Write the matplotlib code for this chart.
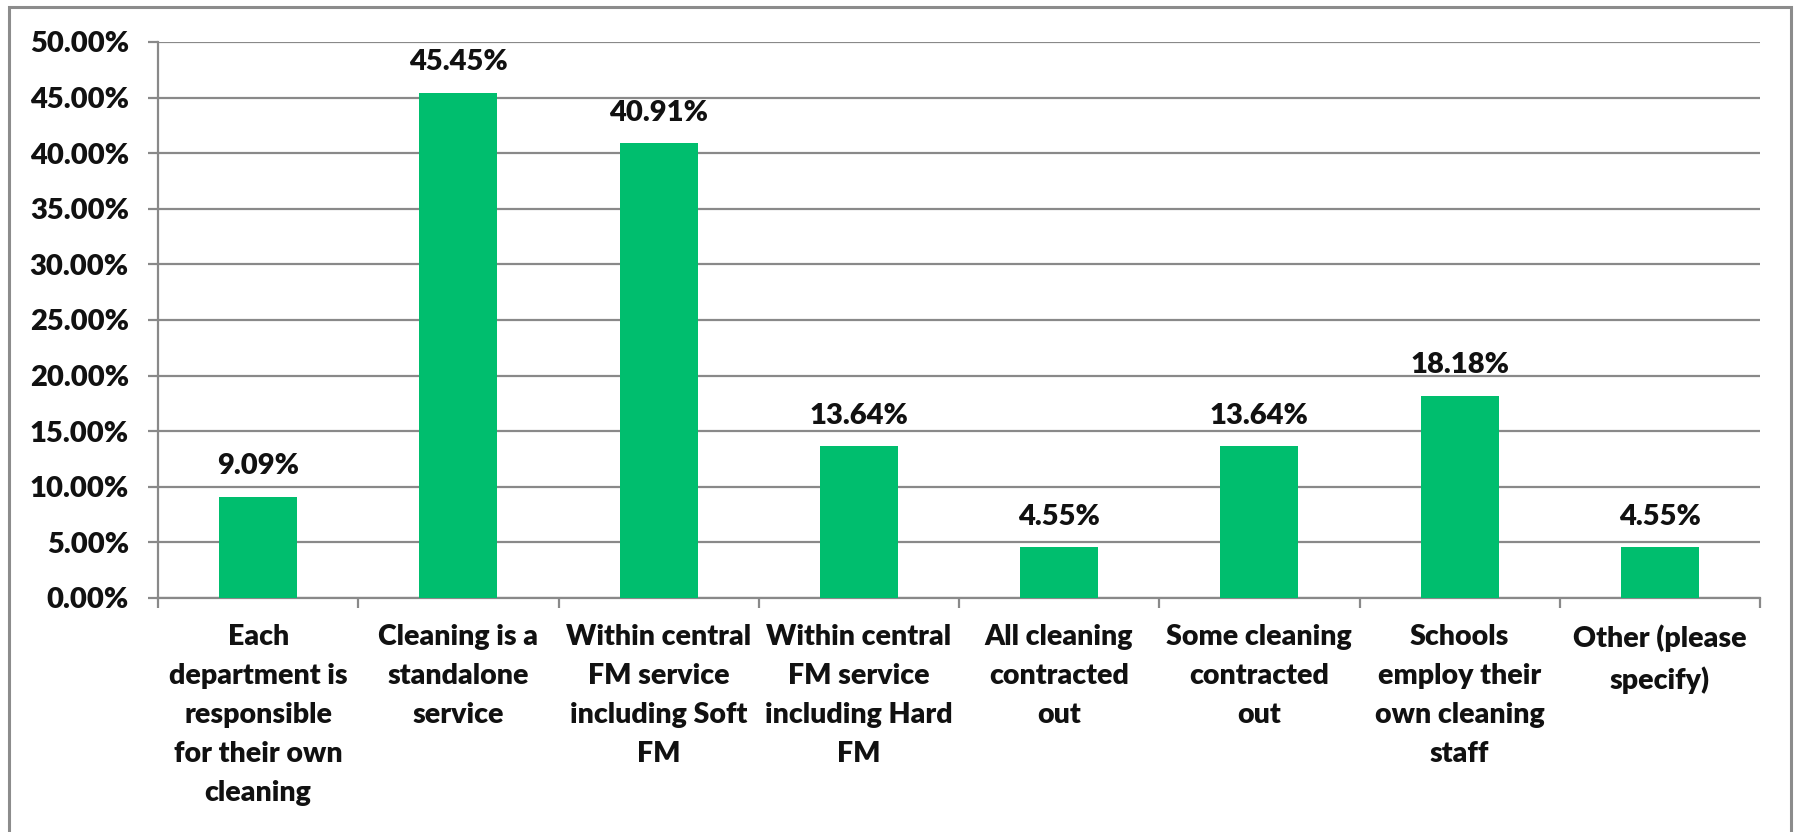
import matplotlib
matplotlib.use("Agg")
import matplotlib.pyplot as plt
from matplotlib.patches import Rectangle
from matplotlib.ticker import FuncFormatter, FixedLocator
import numpy as np

categories = [
    "Each\ndepartment is\nresponsible\nfor their own\ncleaning",
    "Cleaning is a\nstandalone\nservice",
    "Within central\nFM service\nincluding Soft\nFM",
    "Within central\nFM service\nincluding Hard\nFM",
    "All cleaning\ncontracted\nout",
    "Some cleaning\ncontracted\nout",
    "Schools\nemploy their\nown cleaning\nstaff",
    "Other (please\nspecify)",
]
values = [9.09, 45.45, 40.91, 13.64, 4.55, 13.64, 18.18, 4.55]

barColor = "#00BE6E"
gridColor = "#898989"
textColor = "#111111"
weight = "heavy"

plt.rcParams["font.family"] = ["Lato", "DejaVu Sans"]

fig = plt.figure(figsize=(18, 8.32), dpi=100)
ax = fig.add_axes([158 / 1800, 1 - 598 / 832, (1760 - 158) / 1800, (598 - 42) / 832])

x = np.arange(len(values))
fracs = np.array(values) / 100
ax.bar(x, fracs, width=0.39, color=barColor, zorder=3)

for xi, v in zip(x, fracs):
    ax.annotate(f"{v * 100:.2f}%", (xi, v), xytext=(0, 22), textcoords="offset points",
                ha="center", va="center", fontsize=21, fontweight=weight, color=textColor)

ax.set_xlim(-0.5, len(values) - 0.5)
ax.set_ylim(0, 0.5)
ax.set_yticks(np.arange(0, 0.5001, 0.05))
ax.yaxis.set_major_formatter(FuncFormatter(lambda v, p: f"{v * 100:.2f}%"))
ax.grid(axis="y", color=gridColor, linewidth=1.6, zorder=0)

ax.set_xticks(x)
ax.set_xticklabels(categories, fontsize=20.5, fontweight=weight, linespacing=1.62)
ax.xaxis.set_minor_locator(FixedLocator(np.arange(-0.5, len(values), 1.0)))
ax.tick_params(axis="x", which="major", length=0, pad=19, colors=textColor)
ax.tick_params(axis="x", which="minor", length=7, width=1.6, color=gridColor)
ax.tick_params(axis="y", length=7, width=1.6, color=gridColor, pad=14, labelsize=21, labelcolor=textColor)
for lbl in ax.get_yticklabels():
    lbl.set_fontweight(weight)

for s in ["top", "right"]:
    ax.spines[s].set_visible(False)
for s in ["left", "bottom"]:
    ax.spines[s].set_color(gridColor)
    ax.spines[s].set_linewidth(1.6)

border = Rectangle((9 / 1800, -0.05), (1791 - 9) / 1800, 1.05 - 7 / 832, transform=fig.transFigure,
                   fill=False, edgecolor="#8c8c8c", linewidth=2.2, clip_on=False)
fig.patches.append(border)

fig.savefig("out.png", dpi=100)
